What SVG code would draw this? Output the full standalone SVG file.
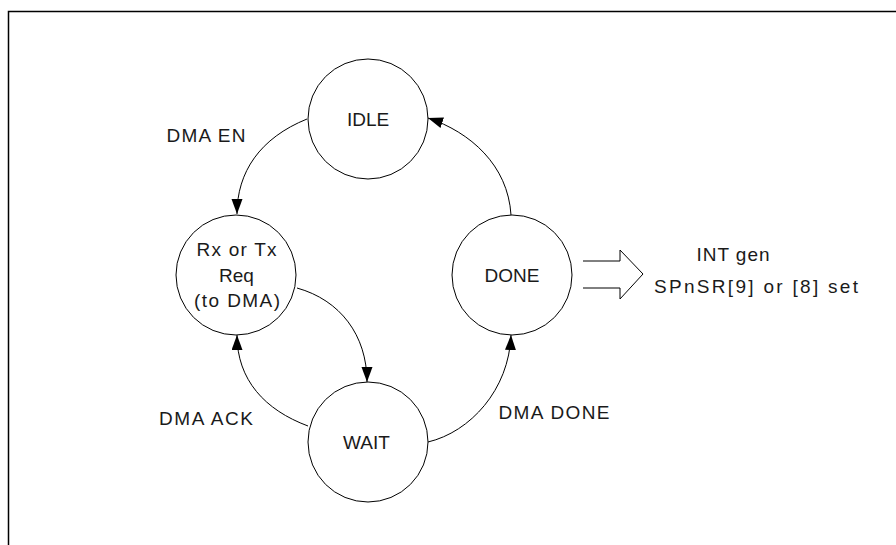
<svg xmlns="http://www.w3.org/2000/svg" width="896" height="545" viewBox="0 0 896 545">
<defs>
<style>
.node{fill:#fff;stroke:#000;stroke-width:1}
.lbl{font-family:"Liberation Sans",Arial,sans-serif;font-size:19px;fill:#1a1a1a;text-anchor:middle}
.edge{fill:none;stroke:#000;stroke-width:1;marker-end:url(#ah)}
</style>
<marker id="ah" markerUnits="userSpaceOnUse" markerWidth="16" markerHeight="12" refX="15" refY="5.5" orient="auto">
<path d="M0,0 L15,5.5 L0,11 z" fill="#000"/>
</marker>
</defs>
<rect width="896" height="545" fill="#fff"/>
<path d="M8.5,545 L8.5,11.5 L896,11.5" fill="none" stroke="#000" stroke-width="1.5"/>
<g id="connectors">
<path class="edge" d="M307,119 C260,138 237,172 237,214"/>
<path class="edge" d="M297,288 C340,300 367,335 367,382"/>
<path class="edge" d="M308,426 C265,410 237,380 237,335"/>
<path class="edge" d="M428,442 C470,432 509,390 511,335"/>
<path class="edge" d="M511,215 C508,165 470,132 428,118"/>
</g>
<g id="idle">
<circle class="node" cx="368" cy="119" r="60"/>
<text class="lbl" x="368" y="125.5">IDLE</text>
</g>
<g id="req">
<circle class="node" cx="236" cy="275" r="60"/>
<text class="lbl" x="236.5" y="256" textLength="80" lengthAdjust="spacing">Rx or Tx</text>
<text class="lbl" x="236.5" y="281.5">Req</text>
<text class="lbl" x="237" y="307" textLength="86" lengthAdjust="spacing">(to DMA)</text>
</g>
<g id="done">
<circle class="node" cx="512" cy="275" r="60"/>
<text class="lbl" x="512" y="281.5">DONE</text>
</g>
<g id="wait">
<circle class="node" cx="368" cy="442" r="60"/>
<text class="lbl" x="366.5" y="449">WAIT</text>
</g>
<g id="output">
<path d="M583,261 L620,261 L620,250 L643,274 L620,299 L620,288 L583,288" fill="none" stroke="#000" stroke-width="1"/>
<text class="lbl" x="733" y="261" textLength="73" lengthAdjust="spacing">INT gen</text>
<text class="lbl" x="756" y="293" textLength="204" lengthAdjust="spacing">SPnSR[9] or [8] set</text>
</g>
<g id="labels">
<text class="lbl" x="206" y="142" textLength="79" lengthAdjust="spacing">DMA EN</text>
<text class="lbl" x="206" y="424.5" textLength="94" lengthAdjust="spacing">DMA ACK</text>
<text class="lbl" x="554" y="418.5" textLength="111" lengthAdjust="spacing">DMA DONE</text>
</g>
</svg>
